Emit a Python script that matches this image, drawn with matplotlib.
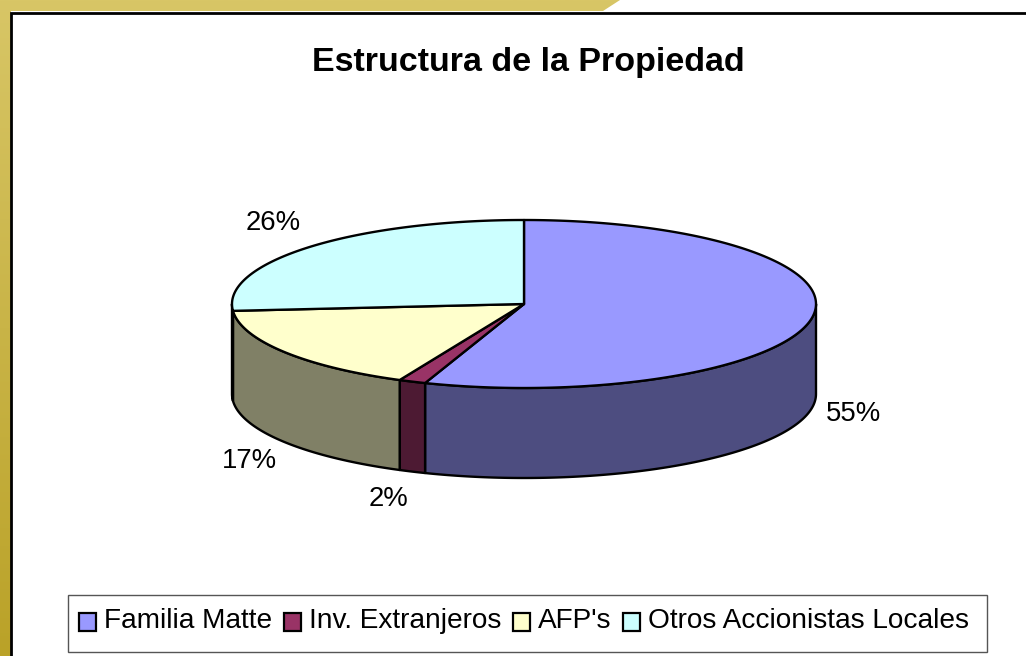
import numpy as np
import matplotlib
matplotlib.use('Agg')
import matplotlib.pyplot as plt
from matplotlib.patches import Polygon, Patch, Rectangle

plt.rcParams['font.family'] = ['Liberation Sans', 'DejaVu Sans']

title = 'Estructura de la Propiedad'
categories = ['Familia Matte', 'Inv. Extranjeros', "AFP's", 'Otros Accionistas Locales']
values = [55.5, 1.5, 16.7, 26.3]
pct_labels = ['55%', '2%', '17%', '26%']
top_colors = ['#9999FF', '#993366', '#FFFFCC', '#CCFFFF']
side_colors = ['#4D4D80', '#4D1A33', '#808066', '#668080']
label_pos = [(853, 414), (389, 499), (249, 461), (273, 223)]

cx, cy, rx, ry, depth = 524, 304, 292, 84, 90


def rim(t, down=0):
    return np.column_stack([cx + rx * np.sin(t), cy - ry * np.cos(t) + down])


fig = plt.figure(figsize=(10.26, 6.56), dpi=100)
ax = fig.add_axes([0, 0, 1, 1])
ax.set_xlim(0, 1026)
ax.set_ylim(656, 0)
ax.axis('off')

# gold frame, darker towards the bottom
grad = np.linspace(0, 1, 256).reshape(-1, 1, 1)
c1 = np.array([0xD8, 0xC6, 0x66]) / 255
c2 = np.array([0xBA, 0xA2, 0x28]) / 255
im = ax.imshow(c1 + (c2 - c1) * grad, extent=[0, 1026, 656, 0], aspect='auto', zorder=0)
clip = Polygon([(0, 0), (620, 0), (603, 11), (11, 11), (11, 656), (0, 656)], transform=ax.transData, fc='none', ec='none')
ax.add_patch(clip)
im.set_clip_path(clip)
ax.set_xlim(0, 1026)
ax.set_ylim(656, 0)

ax.plot([11, 11, 1026], [656, 12.5, 12.5], color='black', lw=2, zorder=1, solid_joinstyle='miter')

# slice angles, clockwise from 12 o'clock
edges = np.cumsum([0] + values) / sum(values) * 2 * np.pi

# sides first, only the front part of the rim shows
for k in range(len(values)):
    a = max(edges[k], np.pi / 2)
    b = min(edges[k + 1], 3 * np.pi / 2)
    if b <= a:
        continue
    t = np.linspace(a, b, 120)
    pts = np.vstack([rim(t), rim(t[::-1], depth)])
    ax.add_patch(Polygon(pts, fc=side_colors[k], ec='black', lw=1.7, joinstyle='round', zorder=2))

# top of the pie
for k in range(len(values)):
    t = np.linspace(edges[k], edges[k + 1], 200)
    pts = np.vstack([[cx, cy], rim(t)])
    ax.add_patch(Polygon(pts, fc=top_colors[k], ec='black', lw=1.7, joinstyle='round', zorder=3))

for s, (x, y) in zip(pct_labels, label_pos):
    ax.text(x, y, s, fontsize=19.8, ha='center', va='center', color='black')

ax.text(528, 62, title, fontsize=24.5, fontweight='bold', ha='center', va='center', color='black')

ax.add_patch(Rectangle((68, 595), 919, 57, fc='white', ec='#555555', lw=1, zorder=4))
handles = [Patch(fc=c, ec='black', lw=1.6) for c in top_colors]
leg = ax.legend(handles, categories, ncol=4, loc='center', bbox_to_anchor=(524, 621), bbox_transform=ax.transData,
                fontsize=20.2, frameon=False, handlelength=0.6, handleheight=0.62,
                handletextpad=0.28, columnspacing=0.42, borderpad=0, borderaxespad=0)
leg.set_zorder(5)
# swatches sit a little below the text
for p in leg.get_patches():
    p.set_y(p.get_y() - 3)

fig.savefig('out.png', dpi=100)
